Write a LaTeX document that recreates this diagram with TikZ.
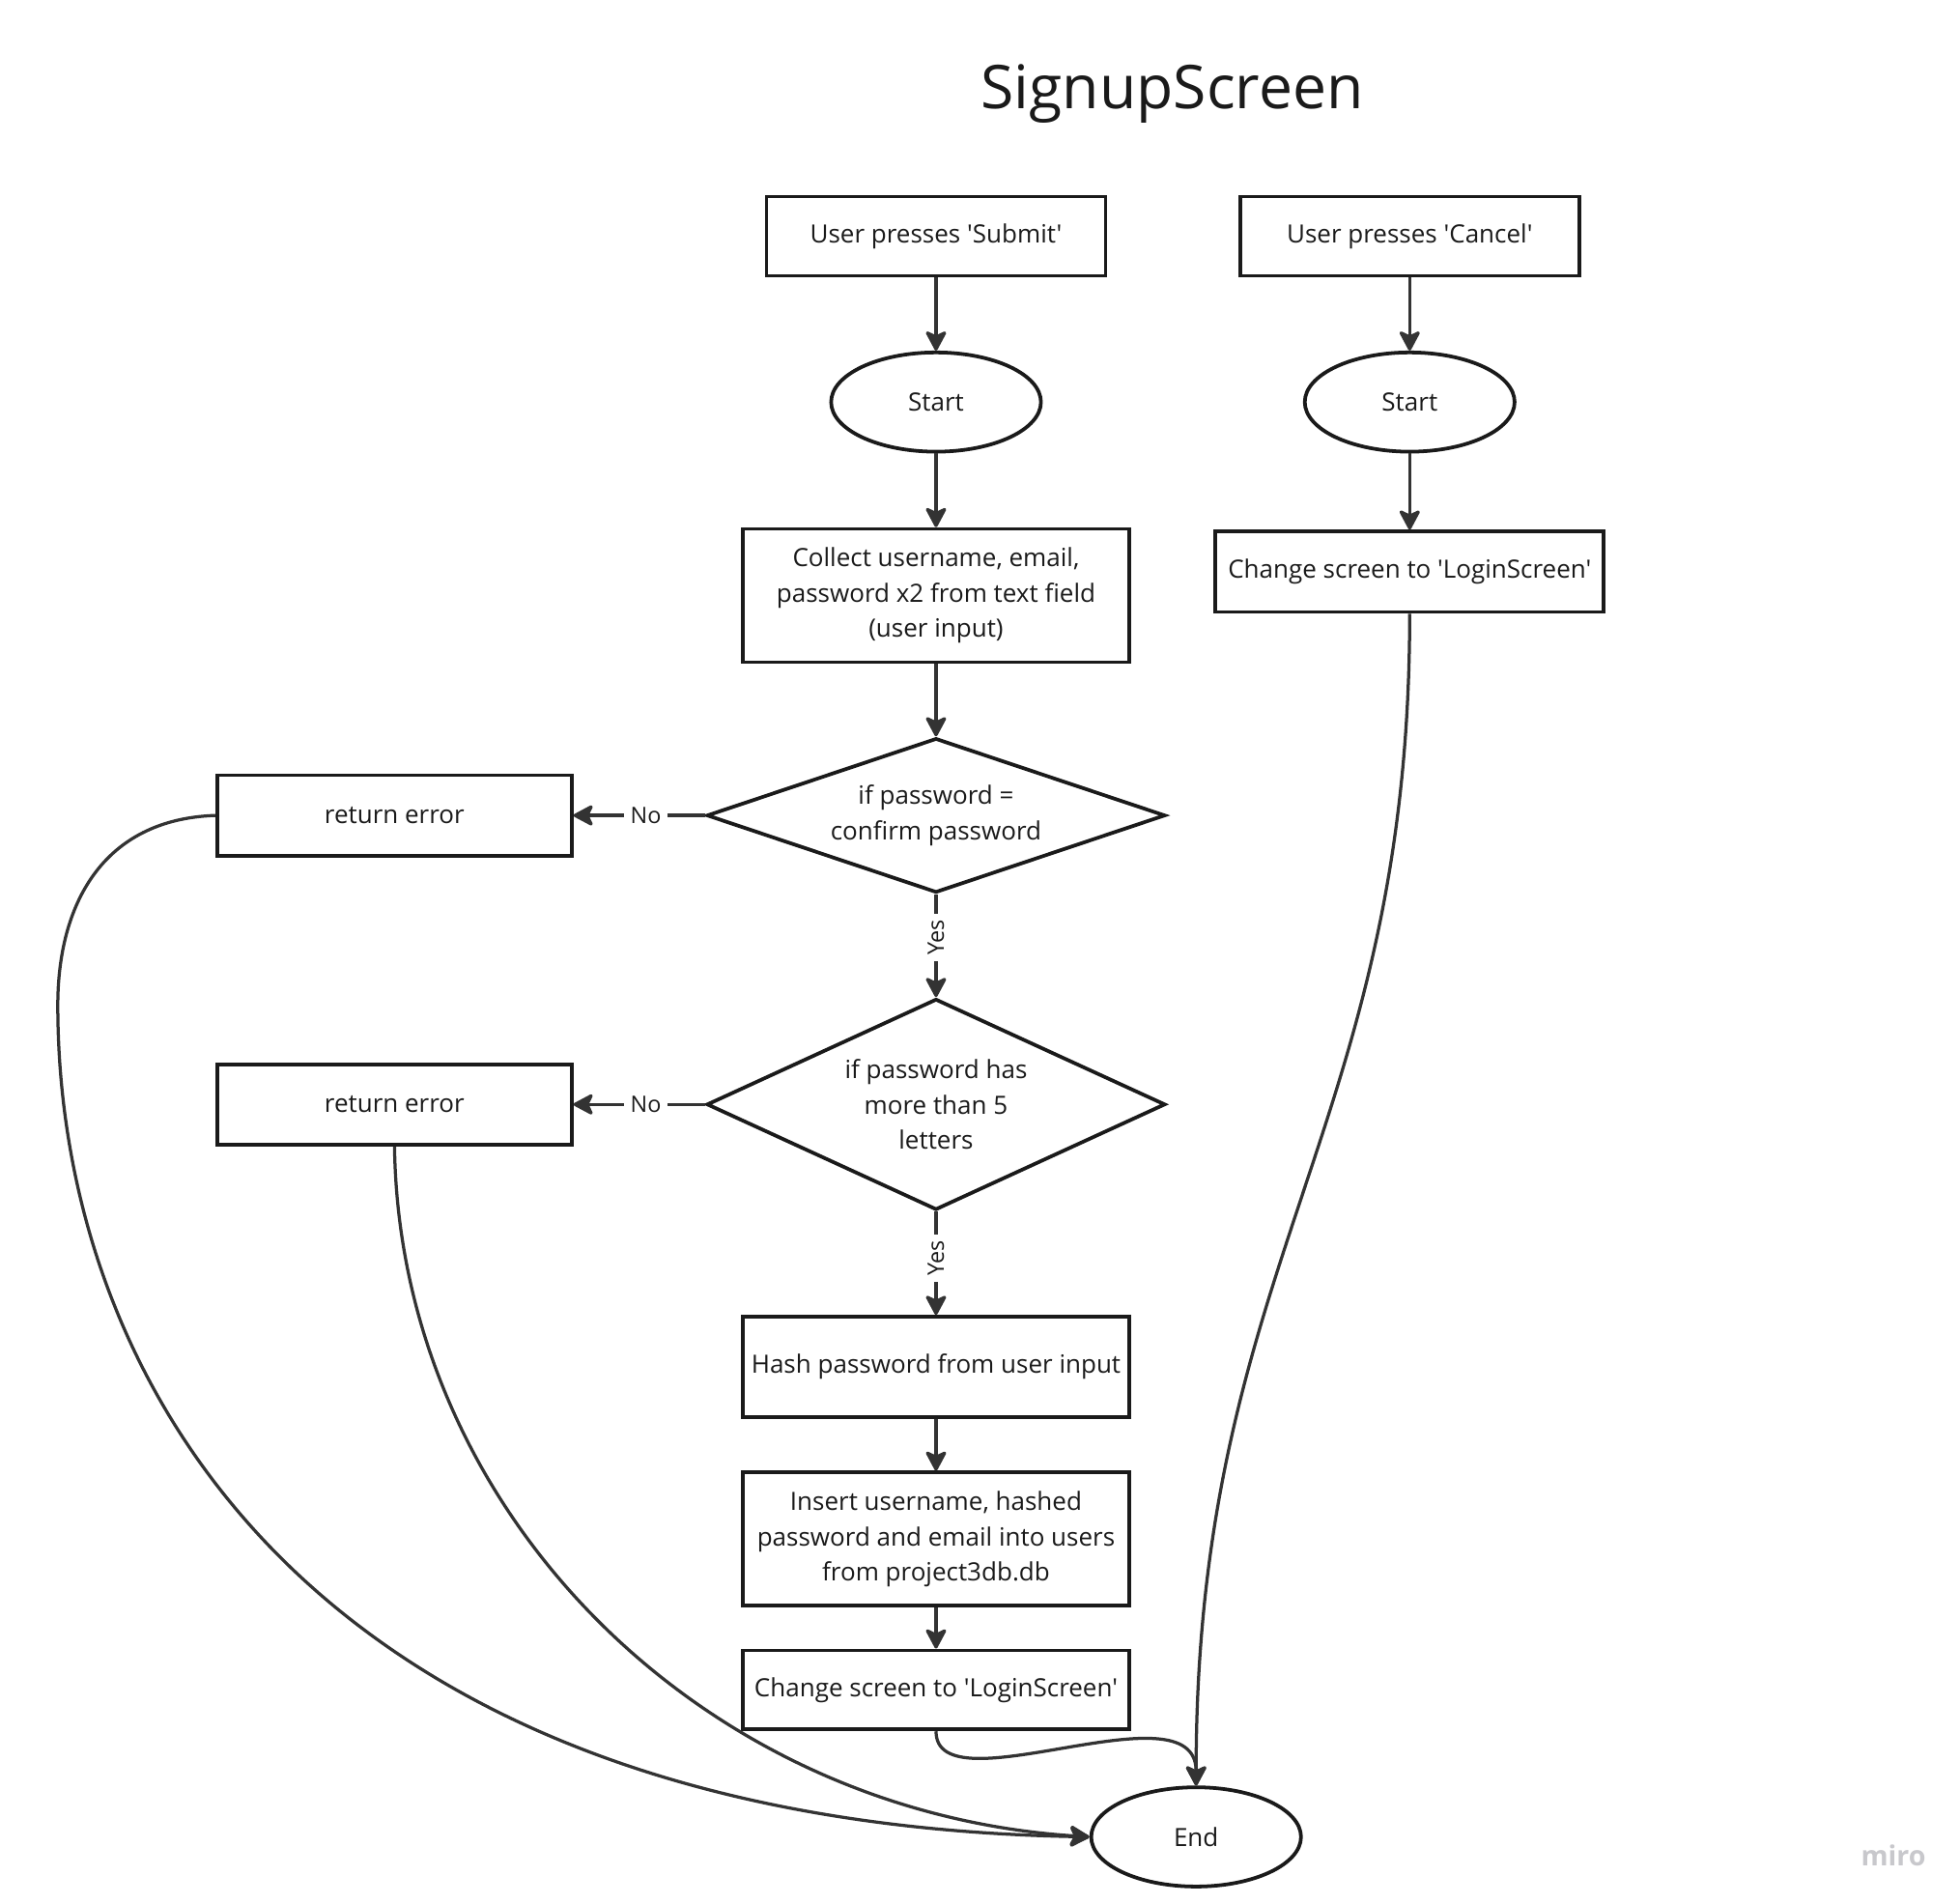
\documentclass[tikz,border=0pt]{standalone}
\usepackage{fontspec}
\setmainfont{Open Sans}[Ligatures=TeXOff]
\usetikzlibrary{shapes.geometric,arrows.meta}
\definecolor{lin}{HTML}{333333}
\definecolor{bord}{HTML}{1A1A1A}
\definecolor{txt}{HTML}{1A1A1A}
\definecolor{wm}{HTML}{C8C8CC}
\tikzset{
 base/.style={font=\fontsize{10pt}{14pt}\selectfont, text=txt, align=center, inner sep=0pt},
 proc/.style={base, draw=bord, line width=1.45pt, rectangle},
 term/.style={base, draw=bord, line width=1.45pt, ellipse, minimum width=83.5pt, minimum height=39.5pt},
 dec/.style={base, draw=bord, line width=1.45pt, diamond, minimum width=182.5pt},
 conn/.style={draw=lin, line width=1.25pt, -{Stealth[length=9pt,width=9.5pt,inset=2.2pt,round]}},
 lab/.style={fill=white, font=\fontsize{9pt}{11pt}\selectfont, text=txt, inner sep=2.5pt},
}
\begin{document}
\begin{tikzpicture}[x=0.5pt,y=-0.5pt]
\useasboundingbox[fill=white] (0,0) rectangle (1560,1515);
\node[font=\fontsize{24pt}{28pt}\selectfont, text=txt] (title) at (933,75) {SignupScreen};
\node[proc, minimum width=135pt, minimum height=31.5pt] (sub) at (745,188) {User presses 'Submit'};
\node[proc, minimum width=135pt, minimum height=31.5pt] (can) at (1122,188) {User presses 'Cancel'};
\node[term] (st1) at (745,320) {Start};
\node[term] (st2) at (1122,320) {Start};
\node[proc, minimum width=154pt, minimum height=53pt] (col) at (745,474) {Collect username, email,\\password x2 from text field\\(user input)};
\node[proc, minimum width=154.5pt, minimum height=32pt] (chr) at (1122,455) {Change screen to 'LoginScreen'};
\node[dec, minimum height=61.5pt, aspect=2.95] (d1) at (745,649) {if password =\\confirm password};
\node[proc, minimum width=141pt, minimum height=32pt] (err1) at (314,649) {return error};
\node[dec, minimum height=84pt, aspect=2.18] (d2) at (745,879) {if password has\\more than 5\\letters};
\node[proc, minimum width=141pt, minimum height=32pt] (err2) at (314,879) {return error};
\node[proc, minimum width=154pt, minimum height=40pt] (hash) at (745,1088) {Hash password from user input};
\node[proc, minimum width=154pt, minimum height=53pt] (ins) at (745,1225) {Insert username, hashed\\password and email into users\\from project3db.db};
\node[proc, minimum width=154pt, minimum height=31.5pt] (chb) at (745,1345) {Change screen to 'LoginScreen'};
\node[term] (end) at (952,1462) {End};
\node[font=\fontsize{11pt}{11pt}\selectfont\bfseries, text=wm] (miro) at (1507,1477) {miro};
\coordinate (lw) at (46,800);

\draw[conn] (sub) -- (st1);
\draw[conn] (can) -- (st2);
\draw[conn] (st1) -- (col);
\draw[conn] (st2) -- (chr);
\draw[conn] (col) -- (d1);
\draw[conn] (d1.west) -- node[lab, pos=0.45]{No} (err1.east);
\draw[conn] (d2.west) -- node[lab, pos=0.45]{No} (err2.east);
\draw[conn] (d1.south) -- node[lab, rotate=90, pos=0.42]{Yes} (d2.north);
\draw[conn] (d2.south) -- node[lab, rotate=90, pos=0.45]{Yes} (hash.north);
\draw[conn] (hash) -- (ins);
\draw[conn] (ins) -- (chb);
\draw[conn] (chb.south) .. controls +(0,63) and +(0,-82) .. (end.north);
\draw[conn] (chr.south) .. controls +(0,410) and +(0,-420) .. (end.north);
\draw[conn] (err2.south) .. controls +(4,290) and +(-310,-20) .. (end.west);
\draw[conn] (err1.west) .. controls +(-90,3) and +(0,-80) .. (lw) .. controls +(0,300) and +(-620,-12) .. (end.west);
\end{tikzpicture}
\end{document}
